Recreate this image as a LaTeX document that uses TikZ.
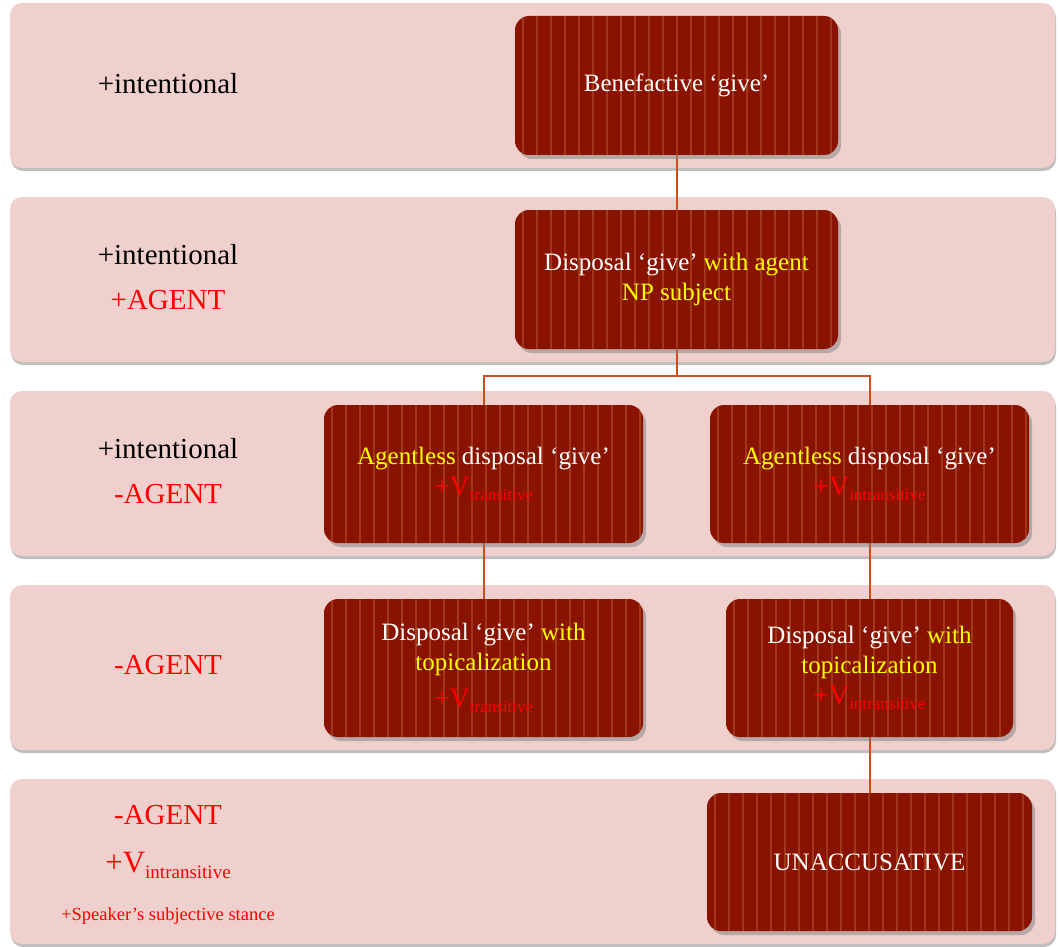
\documentclass[tikz,border=0pt]{standalone}
\usepackage{fontspec}
\setmainfont{Liberation Serif}
\usetikzlibrary{shadows}
\definecolor{bandfill}{HTML}{EFD0CD}
\definecolor{boxfill}{HTML}{8A1300}
\definecolor{stripecol}{HTML}{A03818}
\definecolor{conncol}{HTML}{C8501E}
\definecolor{yel}{HTML}{FFFF00}
\definecolor{redt}{HTML}{FF0000}
\pgfdeclarelayer{bandlayer}
\pgfdeclarelayer{connlayer}
\pgfsetlayers{bandlayer,connlayer,main}
\newcommand\Vsub[3]{{\fontsize{#1}{#1}\selectfont +V}\raisebox{-0.45ex}{\fontsize{#2}{#2}\selectfont #3}}
\newcommand\yl[1]{\textcolor{yel}{#1}}
\newcommand\rd[1]{\textcolor{redt}{#1}}
\tikzset{
  band/.style={rounded corners=12pt, fill=bandfill, draw=none, inner sep=0pt,
    minimum width=1045pt, minimum height=165pt,
    drop shadow={opacity=0.5, shadow xshift=1pt, shadow yshift=-3pt}},
  dbox/.style={rounded corners=14pt, fill=boxfill, text=white, align=center, inner sep=0pt,
    font=\fontsize{25}{30}\selectfont,
    drop shadow={opacity=0.5, shadow xshift=3pt, shadow yshift=-4pt},
    path picture={\foreach \k in {1,...,24}{
      \draw[stripecol, line width=1.2pt]
        ([xshift=\k*14pt-6pt]path picture bounding box.south west) --
        ([xshift=\k*14pt-6pt]path picture bounding box.north west);}}},
  lab/.style={font=\fontsize{29}{32}\selectfont, inner sep=0pt},
  conn/.style={draw=conncol, line width=2pt}
}
\begin{document}
\begin{tikzpicture}[x=1pt,y=-1pt]
\useasboundingbox (0,0) rectangle (1058,947);
\begin{pgfonlayer}{bandlayer}
\node[band] (band1) at (532.5,85.5) {};
\node[band] (band2) at (532.5,279.5) {};
\node[band] (band3) at (532.5,473.5) {};
\node[band] (band4) at (532.5,667.5) {};
\node[band] (band5) at (532.5,861.5) {};
\end{pgfonlayer}

% left labels
\node[lab] (l1a) at (168,84) {+intentional};
\node[lab] (l2a) at (168,255) {+intentional};
\node[lab, text=redt] (l2b) at (168,300) {+AGENT};
\node[lab] (l3a) at (168,449) {+intentional};
\node[lab, text=redt] (l3b) at (168,494) {-AGENT};
\node[lab, text=redt] (l4a) at (168,665) {-AGENT};
\node[lab, text=redt] (l5a) at (168,815) {-AGENT};
\node[lab, text=redt] (l5b) at (168,865) {\Vsub{31}{19}{intransitive}};
\node[lab, text=redt, font=\fontsize{18.5}{20}\selectfont] (l5c) at (168,916) {+Speaker’s subjective stance};

% dark boxes
\node[dbox, minimum width=323pt, minimum height=139pt] (b1) at (676.5,85.5) {Benefactive ‘give’};
\node[dbox, minimum width=323pt, minimum height=139pt] (b2) at (676.5,279.5)
  {Disposal ‘give’ \yl{with agent}\\ \yl{NP subject}};
\node[dbox, minimum width=319pt, minimum height=138pt] (b3l) at (483.5,474)
  {\yl{Agentless} disposal ‘give’\\[1pt] \rd{\Vsub{28}{17}{transitive}}};
\node[dbox, minimum width=319pt, minimum height=138pt] (b3r) at (869.5,474)
  {\yl{Agentless} disposal ‘give’\\[1pt] \rd{\Vsub{28}{17}{intransitive}}};
\node[dbox, minimum width=319pt, minimum height=138pt] (b4l) at (483.5,668)
  {Disposal ‘give’ \yl{with}\\ \yl{topicalization}\\[7pt] \rd{\Vsub{28}{17}{transitive}}};
\node[dbox, minimum width=287pt, minimum height=138pt] (b4r) at (869.5,668)
  {Disposal ‘give’ \yl{with}\\ \yl{topicalization}\\[1pt] \rd{\Vsub{28}{17}{intransitive}}};
\node[dbox, minimum width=325pt, minimum height=138pt] (b5) at (869.5,862) {UNACCUSATIVE};

% connectors
\coordinate (j) at (676.5,376);
\begin{pgfonlayer}{connlayer}
\draw[conn] (b1) -- (b2);
\draw[conn] (b2) -- (j);
\draw[conn] (j) -| (b3l);
\draw[conn] (j) -| (b3r);
\draw[conn] (b3l) -- (b4l);
\draw[conn] (b3r) -- (b4r);
\draw[conn] (b4r) -- (b5);
\end{pgfonlayer}
\end{tikzpicture}
\end{document}
